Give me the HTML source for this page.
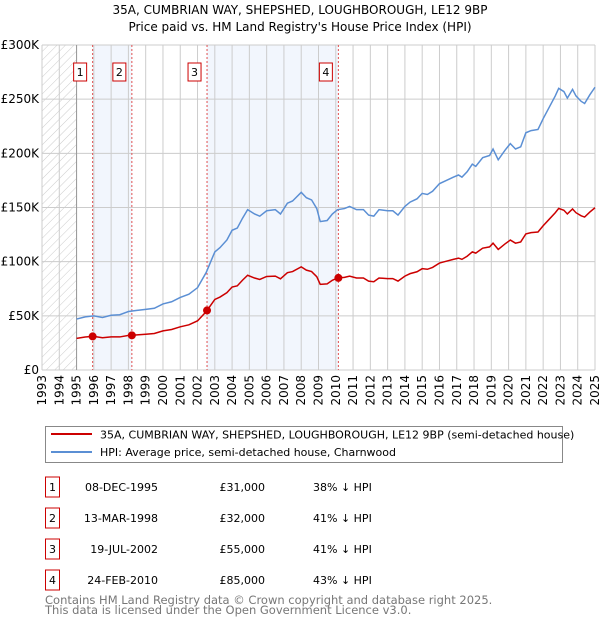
<!DOCTYPE html>
<html><head><meta charset="utf-8"><style>
body{margin:0;background:#fff;width:600px;height:620px;overflow:hidden}
svg text{font-family:"DejaVu Sans","Liberation Sans",sans-serif;}
</style></head><body>
<svg id="svg" width="600" height="620" xmlns="http://www.w3.org/2000/svg">
<defs><pattern id="hatch" width="6" height="6" patternUnits="userSpaceOnUse" patternTransform="rotate(45)"><line x1="0" y1="0" x2="0" y2="6" stroke="#ccc" stroke-width="1"/></pattern></defs>
<text x="300" y="14" text-anchor="middle" font-size="12">35A, CUMBRIAN WAY, SHEPSHED, LOUGHBOROUGH, LE12 9BP</text>
<text x="300" y="31" text-anchor="middle" font-size="12">Price paid vs. HM Land Registry's House Price Index (HPI)</text>
<g id="plot"></g>
<g>
<rect x="45.5" y="426.5" width="517" height="36" fill="#fff" stroke="#888"/>
<line x1="51" y1="434" x2="92" y2="434" stroke="#cc0000" stroke-width="2"/>
<text x="100" y="438.5" font-size="11">35A, CUMBRIAN WAY, SHEPSHED, LOUGHBOROUGH, LE12 9BP (semi-detached house)</text>
<line x1="51" y1="452" x2="92" y2="452" stroke="#5b8fd4" stroke-width="2"/>
<text x="100" y="456" font-size="11">HPI: Average price, semi-detached house, Charnwood</text>
</g>
<g id="table" font-size="11"></g>
<text x="45" y="604" font-size="11.5" fill="#777">Contains HM Land Registry data © Crown copyright and database right 2025.</text>
<text x="45" y="614" font-size="11.5" fill="#777">This data is licensed under the Open Government Licence v3.0.</text>
</svg>
<script>
const yearTicks=[1993,1994,1995,1996,1997,1998,1999,2000,2001,2002,2003,2004,2005,2006,2007,2008,2009,2010,2011,2012,2013,2014,2015,2016,2017,2018,2019,2020,2021,2022,2023,2024,2025];
const yTicks=[0,50,100,150,200,250,300];
const yTickLabels=["£0","£50K","£100K","£150K","£200K","£250K","£300K"];
const hpiT=[1995.0,1995.5,1996,1996.5,1997,1997.5,1998,1998.5,1999,1999.5,2000,2000.5,2001,2001.5,2002,2002.5,2003,2003.3,2003.7,2004,2004.3,2004.6,2004.9,2005.3,2005.6,2006,2006.5,2006.8,2007.2,2007.5,2008,2008.3,2008.6,2008.9,2009.1,2009.5,2009.8,2010.1,2010.5,2010.8,2011.2,2011.6,2011.9,2012.2,2012.5,2013,2013.3,2013.6,2014,2014.3,2014.7,2015,2015.3,2015.6,2016,2016.4,2016.8,2017.1,2017.3,2017.6,2017.9,2018.1,2018.5,2018.9,2019.1,2019.4,2019.8,2020.1,2020.4,2020.7,2021,2021.3,2021.7,2022,2022.3,2022.7,2022.9,2023.2,2023.4,2023.7,2023.9,2024.2,2024.4,2024.7,2025];
const hpiV=[47,49,50,48.5,50.5,51,54,55,56,57,61,63,67,70,76,90,109,113,120,129,131,140,148,144,142,147,148,144,154,156,164,159,157,149,137,138,144,148,149,151,148,148,143,142,148,147,147,143,151,155,158,163,162,165,172,175,178,180,178,183,190,188,196,198,204,194,203,209,204,206,219,221,222,232,241,253,260,257,251,259,253,248,246,254,261];
const saleLabels=["1","2","3","4"];
const saleT=[1995.93,1998.2,2002.55,2010.15];
const saleV=[31,32,55,85];
const saleDates=["08-DEC-1995","13-MAR-1998","19-JUL-2002","24-FEB-2010"];
const salePrices=["£31,000","£32,000","£55,000","£85,000"];
const saleDiff=["38% ↓ HPI","41% ↓ HPI","41% ↓ HPI","43% ↓ HPI"];
const X0=42,X1=595,Y0=370,Y1=45;
const x=t=>X0+(t-1993)/(2025-1993)*(X1-X0);
const y=v=>Y0-v/300*(Y0-Y1);
const NS="http://www.w3.org/2000/svg";
const plot=document.getElementById('plot');
function mk(tag,attrs,parent){const e=document.createElementNS(NS,tag);for(const k in attrs)e.setAttribute(k,attrs[k]);(parent||plot).appendChild(e);return e;}
function hpiAt(t){for(let i=0;i<hpiT.length-1;i++){if(t<=hpiT[i+1]){const f=(t-hpiT[i])/(hpiT[i+1]-hpiT[i]);return hpiV[i]+f*(hpiV[i+1]-hpiV[i]);}}return hpiV[hpiV.length-1];}
let e;
e=mk('rect',{x:X0,y:Y1,width:X1-X0,height:Y0-Y1,fill:'#fff'});

e=mk('rect',{x:X0,y:Y1,width:x(1995)-X0,height:Y0-Y1,fill:'url(#hatch)'});

e=mk('rect',{x:x(saleT[0]),y:Y1,width:x(saleT[1])-x(saleT[0]),height:Y0-Y1,fill:'#f2f6fd'});

e=mk('rect',{x:x(saleT[2]),y:Y1,width:x(saleT[3])-x(saleT[2]),height:Y0-Y1,fill:'#f2f6fd'});

yearTicks.forEach(t=>{e=mk('line',{x1:x(t),x2:x(t),y1:Y1,y2:Y0,stroke:'#ccc'});

e=mk('text',{transform:`translate(${x(t)+4},${Y0+5}) rotate(-90)`,'text-anchor':'end','font-size':'12'});e.textContent=t;
});
yTicks.forEach((v,i)=>{e=mk('line',{x1:X0,x2:X1,y1:y(v),y2:y(v),stroke:'#ccc'});

e=mk('text',{x:X0-3,y:y(v)+4,'text-anchor':'end','font-size':'12'});e.textContent=yTickLabels[i];
});
e=mk('line',{x1:x(1995),x2:x(1995),y1:Y1,y2:Y0,stroke:'#999'});

saleT.forEach((t,i)=>{e=mk('line',{x1:x(t),x2:x(t),y1:Y1,y2:Y0,stroke:'#e05050','stroke-dasharray':'2,2'});

e=mk('rect',{x:x(t)-19,y:63,width:13,height:18,fill:'#fff',stroke:'#cc0000'});

e=mk('text',{x:x(t)-12.5,y:76,'text-anchor':'middle','font-size':'11'});e.textContent=saleLabels[i];
});
e=mk('polyline',{points:hpiT.map((t,i)=>x(t)+','+y(hpiV[i])).join(' '),fill:'none',stroke:'#5b8fd4','stroke-width':1.5});

// property line: HPI scaled by ratio interpolated between sales
const ratios=saleT.map((t,i)=>saleV[i]/hpiAt(t));
function ratioAt(t){if(t<=saleT[0])return ratios[0];for(let j=0;j<saleT.length-1;j++){if(t<=saleT[j+1]){const f=(t-saleT[j])/(saleT[j+1]-saleT[j]);return ratios[j]+f*(ratios[j+1]-ratios[j]);}}return ratios[ratios.length-1];}
const ts=[...hpiT,...saleT].sort((a,b)=>a-b);
const pts=ts.map(t=>x(t)+','+y(hpiAt(t)*ratioAt(t)));
e=mk('polyline',{points:pts.join(' '),fill:'none',stroke:'#cc0000','stroke-width':1.5});

saleT.forEach((t,i)=>{e=mk('circle',{cx:x(t),cy:y(saleV[i]),r:4,fill:'#cc0000'});
});
const tb=document.getElementById('table');
saleT.forEach((t,i)=>{const cy=487+i*31;
e=mk('rect',{x:45.5,y:cy-10,width:14,height:20,fill:'#fff',stroke:'#cc0000'},tb);

e=mk('text',{x:52.5,y:cy+4,'text-anchor':'middle'},tb);e.textContent=saleLabels[i];

e=mk('text',{x:158,y:cy+4,'text-anchor':'end'},tb);e.textContent=saleDates[i];

e=mk('text',{x:265,y:cy+4,'text-anchor':'end'},tb);e.textContent=salePrices[i];

e=mk('text',{x:313,y:cy+4},tb);e.textContent=saleDiff[i];
});
</script>
</body></html>
